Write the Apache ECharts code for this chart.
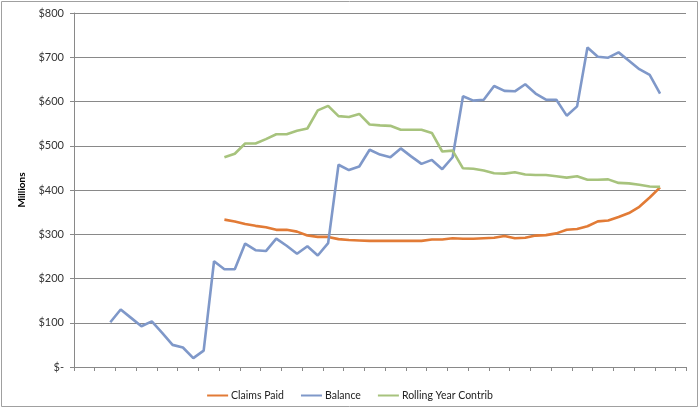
<!DOCTYPE html>
<html>
<head>
<meta charset="utf-8">
<script src="https://cdn.jsdelivr.net/npm/echarts@6/dist/echarts.min.js"></script>
<style>
html,body{margin:0;padding:0;background:#fff;}
#chart{width:700px;height:409px;}
</style>
</head>
<body>
<div id="chart"></div>
<script>
var categories = ['1','2','3','4','5','6','7','8','9','10','11','12','13','14','15','16','17','18','19','20',
  '21','22','23','24','25','26','27','28','29','30','31','32','33','34','35','36','37','38','39','40',
  '41','42','43','44','45','46','47','48','49','50','51','52','53','54','55','56','57','58','59'];

var claimsPaid = [null,null,null,null,null,null,null,null,null,null,null,null,null,null,
  333,329,323,319,316,310,310,306,297,294,294,289,287,
  286,285,285,285,285,285,285,288,288,291,290,290,291,292,296,291,292,297,298,302,310,312,318,329,331,339,348,362,383,406,
  null,null];

var balance = [null,null,null,
  101,130,111,92,103,77,50,44,20,37,
  239,221,221,279,264,262,290,274,256,273,252,280,
  457,445,453,491,480,474,494,476,459,468,447,474,
  612,602,604,635,624,623,639,618,604,604,568,589,722,701,699,711,692,673,660,618,
  null,null];

var rollingYearContrib = [null,null,null,null,null,null,null,null,null,null,null,null,null,null,
  474,482,505,505,515,526,526,534,539,580,590,567,565,
  572,548,546,545,536,536,536,529,487,489,449,448,444,438,437,440,435,434,434,431,428,431,423,423,424,416,415,412,408,407,
  null,null];

var seriesNames = ['Claims Paid','Balance','Rolling Year Contrib'];
var yTicks = {min:0, max:800, interval:100};

var chart = echarts.init(document.getElementById('chart'), null, {renderer:'canvas'});
var font = 'Lato, "Open Sans", sans-serif';
var gray = '#898989';
function mk(name, data, color){
  return {name:name, type:'line', data:data, symbol:'none', showSymbol:false,
    connectNulls:false, lineStyle:{color:color, width:2.6}, itemStyle:{color:color}, z:2, animation:false};
}
chart.setOption({
  animation:false,
  grid:{left:74, right:14, top:13, bottom:42, containLabel:false},
  graphic:[{type:'rect', shape:{x:1.5, y:1.5, width:696, height:405}, style:{fill:'none', stroke:'#a0a0a0', lineWidth:1}, silent:true}],
  legend:{
    data:seriesNames, top:385, left:'center', icon:'rect', itemWidth:21, itemHeight:2, itemGap:17,
    textStyle:{fontFamily:font, fontSize:10.5, color:'#222', padding:[0,0,0,-2]}
  },
  xAxis:{
    type:'category', data:categories, boundaryGap:true,
    axisLine:{show:true, lineStyle:{color:gray, width:1}},
    axisTick:{show:true, inside:false, length:4, lineStyle:{color:gray}},
    axisLabel:{show:false}, splitLine:{show:false}
  },
  yAxis:{
    type:'value', min:yTicks.min, max:yTicks.max, interval:yTicks.interval,
    name:'Millions', nameLocation:'middle', nameRotate:90, nameGap:47,
    nameTextStyle:{fontFamily:font, fontSize:10, fontWeight:'bold', color:'#000'},
    axisLine:{show:true, lineStyle:{color:gray, width:1}},
    axisTick:{show:true, length:4, lineStyle:{color:gray}},
    axisLabel:{margin:10, fontFamily:font, fontSize:11, color:'#333',
      formatter:function(v){return v===0 ? '$-' : '$' + v;}},
    splitLine:{show:true, lineStyle:{color:gray, width:1}}
  },
  series:[
    mk(seriesNames[0], claimsPaid, '#E27B36'),
    mk(seriesNames[1], balance, '#7F98C9'),
    mk(seriesNames[2], rollingYearContrib, '#A7C37D')
  ]
});
</script>
</body>
</html>
